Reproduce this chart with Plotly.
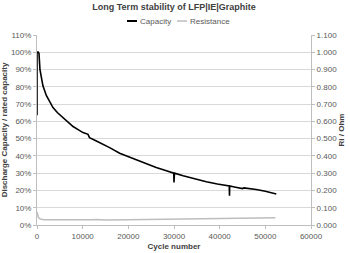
import plotly.graph_objects as go

cap_cycles = [0, 0, 200, 430, 650, 900, 1300, 2040, 2800, 3500, 4500, 5700, 6800, 7900, 9000, 10070,
              11170, 11500, 13000, 14500, 15900, 18100, 21000, 22470, 24000, 26100, 28000,
              29950, 30000, 30100, 32000, 34500, 37070, 39500, 42100, 42150, 42200, 43500, 44500, 45000,
              45300, 46500, 47000, 48000, 50000, 52400]
cap_values = [0.636, 1.0, 1.002, 0.995, 0.90, 0.855, 0.806, 0.75, 0.71, 0.68, 0.65, 0.62, 0.593, 0.57, 0.552, 0.535,
              0.525, 0.506, 0.486, 0.467, 0.448, 0.415, 0.385, 0.368, 0.353, 0.333, 0.317,
              0.30, 0.246, 0.30, 0.285, 0.266, 0.25, 0.237, 0.226, 0.17, 0.226, 0.219, 0.216, 0.211,
              0.215, 0.211, 0.212, 0.206, 0.195, 0.18]

res_cycles = [0, 300, 700, 1500, 3000, 6000, 9000, 11000, 12000, 13000, 15000, 20000, 30000, 40000, 52200]
res_values = [0.075, 0.045, 0.035, 0.031, 0.03, 0.029, 0.029, 0.027, 0.031, 0.032, 0.029, 0.031, 0.035, 0.038, 0.042]

left_ticks = [i / 10 for i in range(12)]
x_ticks = [i * 10000 for i in range(7)]

FONT = "Liberation Sans"
GRAY = "#595959"
DARK = "#404040"
CAP_COLOR = "black"
RES_COLOR = "#bdbdbd"

fig = go.Figure()
fig.add_trace(go.Scatter(x=cap_cycles, y=cap_values, mode="lines", name="Capacity",
                         line=dict(color=CAP_COLOR, width=1.6), yaxis="y"))
fig.add_trace(go.Scatter(x=res_cycles, y=res_values, mode="lines", name="Resistance",
                         line=dict(color=RES_COLOR, width=1.5), yaxis="y2"))

# custom legend (paper coordinates)
leg_y = 1.0 + (35 - 21) / 190
fig.add_shape(type="line", xref="paper", yref="paper", x0=(127 - 37) / 274, x1=(137 - 37) / 274,
              y0=leg_y, y1=leg_y, line=dict(color=CAP_COLOR, width=2))
fig.add_shape(type="line", xref="paper", yref="paper", x0=(177 - 37) / 274, x1=(187 - 37) / 274,
              y0=leg_y, y1=leg_y, line=dict(color=RES_COLOR, width=1.5))
fig.add_annotation(text="Capacity", xref="paper", yref="paper", x=(138 - 37) / 274, y=leg_y,
                   xanchor="left", yanchor="middle", showarrow=False, font=dict(size=8, color=GRAY))
fig.add_annotation(text="Resistance", xref="paper", yref="paper", x=(188 - 37) / 274, y=leg_y,
                   xanchor="left", yanchor="middle", showarrow=False, font=dict(size=8, color=GRAY))

fig.update_layout(
    width=350, height=253,
    margin=dict(l=37, r=39, t=35, b=28),
    paper_bgcolor="white", plot_bgcolor="white",
    font=dict(family=FONT, size=8, color=GRAY),
    title=dict(text="<b>Long Term stability of LFP|IE|Graphite</b>", x=(174 - 0) / 350, xanchor="center",
               y=1 - 7 / 253, yanchor="middle", font=dict(size=9, color=DARK, family=FONT)),
    showlegend=False,
    xaxis=dict(range=[0, 60000], tickvals=x_ticks, tickformat="d", showgrid=False, showline=True,
               linecolor="#bfbfbf", ticks="outside", ticklen=3, tickcolor="#bfbfbf", zeroline=False,
               automargin=False,
               title=dict(text="<b>Cycle number</b>", font=dict(size=8, color=DARK), standoff=3),
               tickfont=dict(size=8, color=GRAY)),
    yaxis=dict(range=[0, 1.1], tickvals=left_ticks, tickformat=".0%", showgrid=True,
               gridcolor="#d9d9d9", gridwidth=1, showline=True, linecolor="#bfbfbf",
               ticks="outside", ticklen=3, tickcolor="#bfbfbf", zeroline=False, automargin=False,
               title=dict(text="<b>Discharge Capacity / rated capacity</b>",
                          font=dict(size=8, color=DARK), standoff=3),
               tickfont=dict(size=8, color=GRAY)),
    yaxis2=dict(range=[0, 1.1], tickvals=left_ticks, tickformat=".3f", overlaying="y", side="right",
                showgrid=False, showline=True, linecolor="#bfbfbf", ticks="outside", ticklen=3,
                tickcolor="#bfbfbf", zeroline=False, automargin=False,
                title=dict(text="<b>Ri / Ohm</b>", font=dict(size=8, color=DARK), standoff=1),
                tickfont=dict(size=8, color=GRAY)),
)

fig.write_html("out.html", config={"displayModeBar": False},
               post_script="document.body.style.margin='0';document.body.style.padding='0';")
